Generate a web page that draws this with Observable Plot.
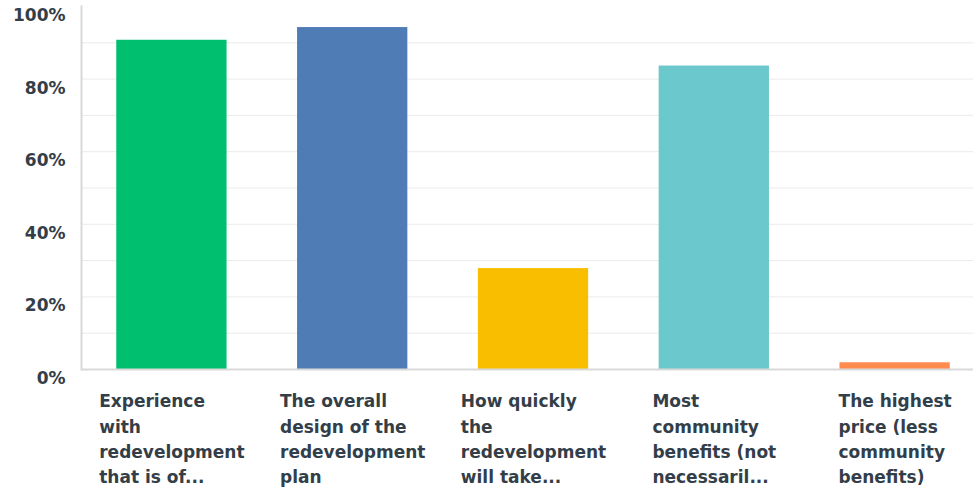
<!DOCTYPE html>
<html><head><meta charset="utf-8">
<script src="https://cdn.jsdelivr.net/npm/d3@7"></script>
<script src="https://cdn.jsdelivr.net/npm/@observablehq/plot@0.6"></script>
<style>html,body{margin:0;padding:0;background:#fff} svg{display:block}</style>
</head><body><div id="chart"></div>
<script>
const categories = [
  "Experience\nwith\nredevelopment\nthat is of...",
  "The overall\ndesign of the\nredevelopment\nplan",
  "How quickly\nthe\nredevelopment\nwill take...",
  "Most\ncommunity\nbenefits (not\nnecessaril...",
  "The highest\nprice (less\ncommunity\nbenefits)"
];
const values = [90.7, 94.2, 27.8, 83.6, 1.85];
const colors = ["#00bf6f", "#507cb6", "#f9be00", "#6bc8cd", "#ff8b4f"];
const yTicks = [0, 20, 40, 60, 80, 100];
const gridTicks = [10, 20, 30, 40, 50, 60, 70, 80, 90];

const data = categories.map((c, i) => ({category: c, value: values[i]}));

const chart = Plot.plot({
  width: 973, height: 490,
  marginLeft: 81, marginRight: 0, marginTop: 6, marginBottom: 121,
  style: {fontFamily: "'DejaVu Sans', sans-serif", fontSize: "17px", fontWeight: "bold", color: "#333e48", background: "#fff", overflow: "visible"},
  x: {domain: categories, range: [81, 985], paddingInner: 0.39, paddingOuter: 0.195, round: false, label: null},
  y: {domain: [0, 100], label: null},
  color: {domain: categories, range: colors},
  marks: [
    Plot.ruleY(gridTicks, {stroke: "#ebebeb", strokeWidth: 1}),
    Plot.barY(data, {x: "category", y: "value", fill: "category"}),
    Plot.ruleY([0], {stroke: "#d9d9d9", strokeWidth: 2}),
    Plot.frame({anchor: "left", stroke: "#d9d9d9", strokeWidth: 2}),
    Plot.axisY(yTicks, {tickSize: 0, tickPadding: 16, tickFormat: d => d + "%", dy: 9, fontSize: 17, fill: "#333e48", label: null}),
    Plot.axisX({tickSize: 0, tickPadding: 20, lineAnchor: "top", textAnchor: "start", lineHeight: 1.49, fontSize: 17, fill: "#333e48", label: null})
  ]
});
document.getElementById("chart").appendChild(chart);
chart.querySelectorAll('g[aria-label="x-axis tick label"] text').forEach(t => {
  const w = t.getBBox().width;
  t.setAttribute("transform", (t.getAttribute("transform") || "") + ` translate(${-w / 2},0)`);
});
</script>
</body></html>
